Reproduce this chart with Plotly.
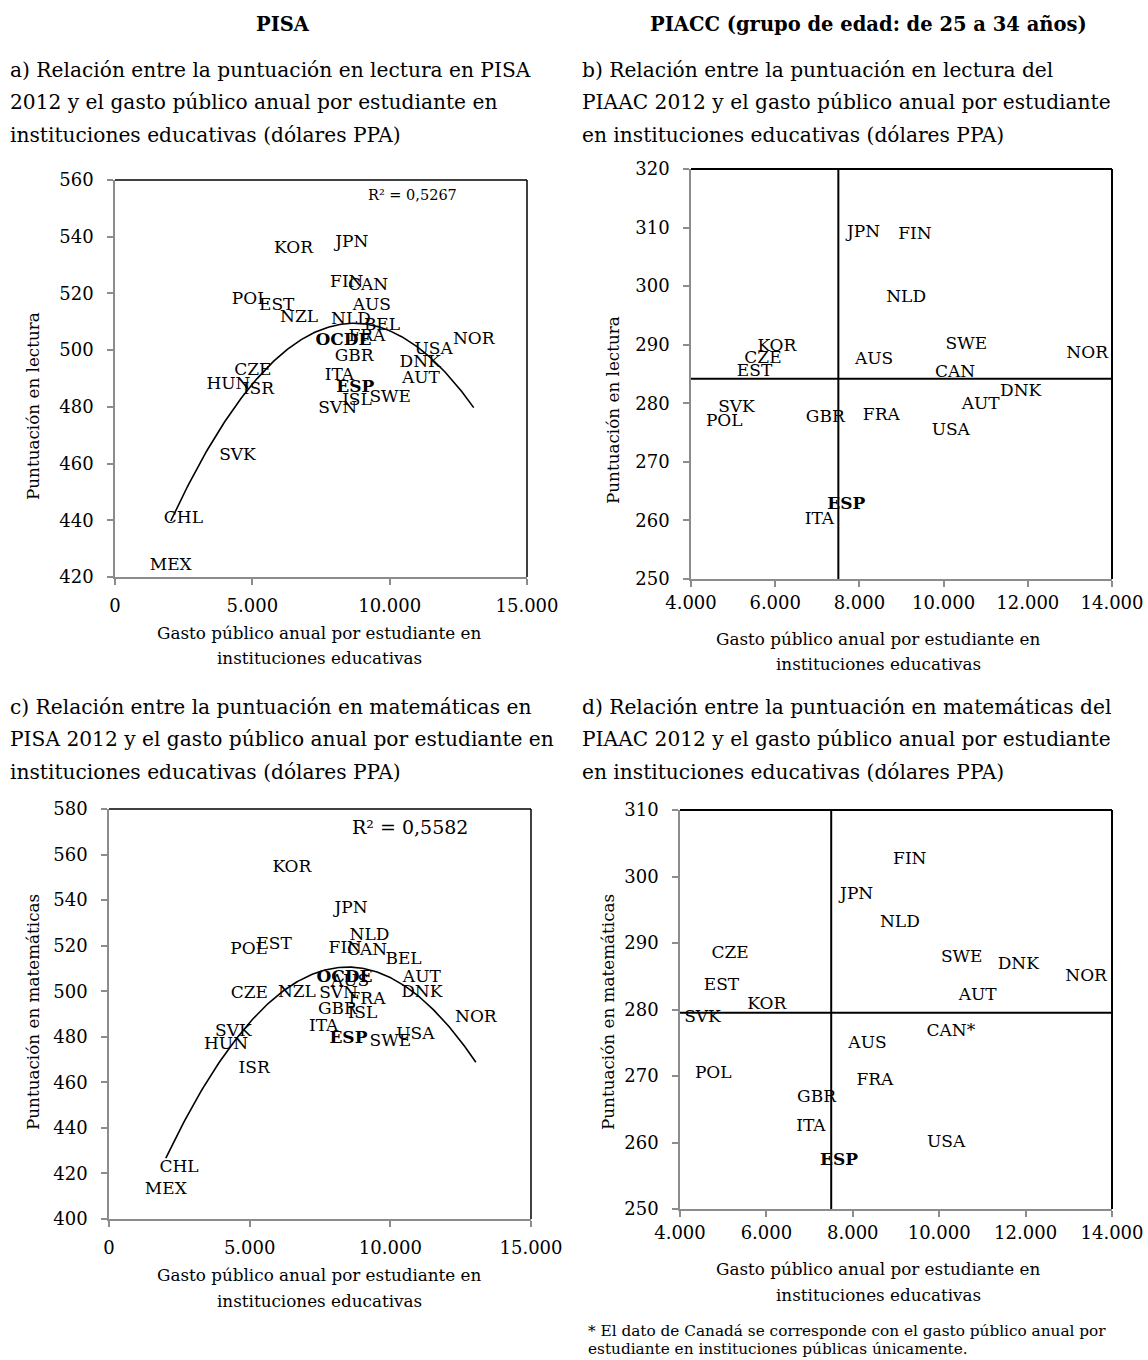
import numpy as np
import plotly.graph_objects as go

FONT = "DejaVu Serif"
W, H = 1148, 1360
GRAY = "#8c8c8c"

# ---------------- data ----------------
# a) PISA 2012 reading vs spending
countries_a = ["KOR", "JPN", "FIN", "CAN", "POL", "EST", "NZL", "AUS", "NLD", "BEL", "FRA", "NOR",
               "USA", "GBR", "DNK", "CZE", "ITA", "AUT", "HUN", "ISR", "ESP", "SWE", "ISL", "SVN",
               "SVK", "CHL", "MEX"]
spend_a = [6500, 8620, 8440, 9210, 4920, 5890, 6700, 9350, 8590, 9720, 9170, 13060,
           11600, 8710, 11110, 5020, 8170, 11140, 4130, 5220, 8750, 10020, 8810, 8110,
           4460, 2490, 2030]
read_a = [535.7, 537.7, 523.6, 522.7, 517.7, 515.6, 511.6, 515.6, 510.7, 508.7, 504.8, 503.6,
          500.1, 497.8, 495.6, 492.7, 491.1, 489.8, 487.8, 486.0, 486.6, 483.1, 482.2, 479.5,
          462.9, 440.6, 423.8]
oecd_a = (8320, 503.3)
r2_a = "R² = 0,5267"

# c) PISA 2012 maths vs spending
countries_c = ["KOR", "JPN", "NLD", "POL", "EST", "FIN", "CAN", "BEL", "AUS", "AUT", "DNK", "CZE",
               "NZL", "SVN", "FRA", "GBR", "ISL", "NOR", "ITA", "SVK", "USA", "HUN", "ESP", "SWE",
               "ISR", "CHL", "MEX"]
spend_c = [6500, 8600, 9260, 4960, 5870, 8400, 9170, 10470, 8570, 11120, 11120, 4990,
           6680, 8160, 9170, 8120, 9010, 13040, 7630, 4420, 10890, 4160, 8510, 10000,
           5160, 2490, 2020]
math_c = [554.0, 536.0, 524.2, 518.1, 520.6, 518.8, 517.8, 514.0, 504.2, 506.0, 499.5, 498.8,
          499.5, 499.1, 496.1, 492.0, 490.3, 488.5, 484.4, 482.2, 480.8, 476.7, 479.3, 477.9,
          465.9, 422.7, 412.7]
oecd_c = (8370, 505.7)
r2_c = "R² = 0,5582"

# b) PIAAC 2012 literacy (25-34) vs spending
countries_b = ["JPN", "FIN", "NLD", "KOR", "CZE", "EST", "AUS", "SWE", "NOR", "CAN", "DNK", "AUT",
               "SVK", "POL", "GBR", "FRA", "USA", "ESP", "ITA"]
spend_b = [8100, 9320, 9110, 6040, 5710, 5510, 8350, 10540, 13410, 10270, 11830, 10880,
           5080, 4790, 7190, 8520, 10170, 7690, 7050]
read_b = [309.1, 308.8, 298.1, 289.6, 287.6, 285.3, 287.4, 290.0, 288.5, 285.2, 281.9, 279.7,
          279.2, 276.9, 277.5, 277.9, 275.3, 262.6, 260.1]
avg_b = (7500, 284.2)

# d) PIAAC 2012 numeracy (25-34) vs spending
countries_d = ["FIN", "JPN", "NLD", "CZE", "SWE", "DNK", "NOR", "EST", "AUT", "KOR", "SVK", "CAN*",
               "AUS", "POL", "FRA", "GBR", "ITA", "USA", "ESP"]
spend_d = [9320, 8090, 9090, 5160, 10520, 11830, 13400, 4960, 10890, 6010, 4520, 10270,
           8340, 4770, 8510, 7160, 7030, 10160, 7680]
math_d = [302.5, 297.3, 293.0, 288.4, 287.8, 286.7, 285.0, 283.6, 282.1, 280.7, 278.7, 276.6,
          274.9, 270.3, 269.3, 266.8, 262.4, 259.9, 257.3]
avg_d = (7500, 279.5)

# axis ranges / ticks
xr_pisa, xt_pisa = [0, 15000], [0, 5000, 10000, 15000]
yr_a, yr_c = [420, 560], [400, 580]
xr_piaac, xt_piaac = [4000, 14000], [4000, 6000, 8000, 10000, 12000, 14000]
yr_b, yr_d = [250, 320], [250, 310]

# ---------------- helpers ----------------
def px(x):
    return x / W


def py(y):
    return 1 - y / H


def lab(names):
    return [f"<b>{n}</b>" if n in ("ESP", "OCDE") else n for n in names]


fig = go.Figure()

panels = {
    # key: (x-domain px, y-domain px (top, bottom), xrange, xticks, yrange, dtick, xstandoff)
    "1": ((115, 527), (180, 577), xr_pisa, xt_pisa, yr_a, 20, 6),
    "2": ((691, 1112), (169, 579), xr_piaac, xt_piaac, yr_b, 10, 1),
    "3": ((109, 531), (809, 1219), xr_pisa, xt_pisa, yr_c, 20, 6),
    "4": ((680, 1112), (810, 1209), xr_piaac, xt_piaac, yr_d, 10, 1),
}

layout_axes = {}
shapes = []
for k, (xd, yd, xr, xt, yr, dt, xso) in panels.items():
    xa = "xaxis" if k == "1" else f"xaxis{k}"
    ya = "yaxis" if k == "1" else f"yaxis{k}"
    xid = "x" if k == "1" else f"x{k}"
    yid = "y" if k == "1" else f"y{k}"
    layout_axes[xa] = dict(
        domain=[px(xd[0]), px(xd[1])], range=xr, tickvals=xt, tickformat=",d",
        anchor=yid, showline=True, linecolor=GRAY, linewidth=1.5, mirror=False,
        ticks="outside", ticklen=6, tickwidth=1.5, tickcolor=GRAY, showgrid=False,
        zeroline=False, tickfont=dict(family=FONT, size=18, color="black"),
        ticklabelstandoff=xso, automargin=False, fixedrange=True)
    layout_axes[ya] = dict(
        domain=[py(yd[1]), py(yd[0])], range=yr, dtick=dt, tick0=yr[0],
        anchor=xid, showline=True, linecolor=GRAY, linewidth=1.5, mirror=False,
        ticks="outside", ticklen=6, tickwidth=1.5, tickcolor=GRAY, showgrid=False,
        zeroline=False, tickfont=dict(family=FONT, size=18, color="black"),
        ticklabelstandoff=10, automargin=False, fixedrange=True)
    bw = 1.5 if k in ("1", "3") else 2
    shapes.append(dict(type="line", xref=f"{xid} domain", yref=f"{yid} domain",
                       x0=0, x1=1, y0=1, y1=1, line=dict(color="black", width=bw)))
    shapes.append(dict(type="line", xref=f"{xid} domain", yref=f"{yid} domain",
                       x0=1, x1=1, y0=0, y1=1, line=dict(color="black", width=bw)))

# trend lines (quadratic fit, as the original polynomial trendline)
for sx, sy, xid, yid in ((spend_a, read_a, "x", "y"), (spend_c, math_c, "x3", "y3")):
    coef = np.polyfit(sx, sy, 2)
    xs = np.linspace(min(sx), max(sx), 200)
    fig.add_trace(go.Scatter(x=xs, y=np.polyval(coef, xs), mode="lines",
                             line=dict(color="black", width=1.6), xaxis=xid, yaxis=yid,
                             hoverinfo="skip", showlegend=False))

# average lines for PIAAC panels
for (ax, ay), xr, yr, xid, yid in ((avg_b, xr_piaac, yr_b, "x2", "y2"),
                                   (avg_d, xr_piaac, yr_d, "x4", "y4")):
    fig.add_trace(go.Scatter(x=[ax, ax], y=yr, mode="lines", line=dict(color="black", width=2),
                             xaxis=xid, yaxis=yid, hoverinfo="skip", showlegend=False))
    fig.add_trace(go.Scatter(x=xr, y=[ay, ay], mode="lines", line=dict(color="black", width=2),
                             xaxis=xid, yaxis=yid, hoverinfo="skip", showlegend=False))

# country labels
for names, sx, sy, oecd, xid, yid in (
        (countries_a, spend_a, read_a, oecd_a, "x", "y"),
        (countries_b, spend_b, read_b, None, "x2", "y2"),
        (countries_c, spend_c, math_c, oecd_c, "x3", "y3"),
        (countries_d, spend_d, math_d, None, "x4", "y4")):
    nx, ny, nn = list(sx), list(sy), list(names)
    if oecd is not None:
        nx.append(oecd[0]); ny.append(oecd[1]); nn.append("OCDE")
    fig.add_trace(go.Scatter(x=nx, y=ny, mode="text", text=lab(nn), textposition="middle center",
                             textfont=dict(family=FONT, size=17, color="black"),
                             xaxis=xid, yaxis=yid, cliponaxis=False,
                             hoverinfo="skip", showlegend=False))

# ---------------- text ----------------
ann = []


def text(t, x, y, size, xanchor="left", bold=False, angle=0):
    ann.append(dict(text=f"<b>{t}</b>" if bold else t, x=px(x), y=py(y), xref="paper", yref="paper",
                    xanchor=xanchor, yanchor="middle", showarrow=False, textangle=angle,
                    font=dict(family=FONT, size=size, color="black")))


text("PISA", 283, 24, 19.5, "center", bold=True)
text("PIACC (grupo de edad: de 25 a 34 años)", 868, 24, 19.5, "center", bold=True)

sub_a = ["a) Relación entre la puntuación en lectura en PISA",
         "2012 y el gasto público anual por estudiante en",
         "instituciones educativas (dólares PPA)"]
sub_b = ["b) Relación entre la puntuación en lectura del",
         "PIAAC 2012 y el gasto público anual por estudiante",
         "en instituciones educativas (dólares PPA)"]
sub_c = ["c) Relación entre la puntuación en matemáticas en",
         "PISA 2012 y el gasto público anual por estudiante en",
         "instituciones educativas (dólares PPA)"]
sub_d = ["d) Relación entre la puntuación en matemáticas del",
         "PIAAC 2012 y el gasto público anual por estudiante",
         "en instituciones educativas (dólares PPA)"]
for lines, x0, y0 in ((sub_a, 8, 70), (sub_b, 580, 70), (sub_c, 8, 707), (sub_d, 580, 707)):
    for i, ln in enumerate(lines):
        text(ln, x0, y0 + i * 32.5, 20.2)

xt1, xt2 = "Gasto público anual por estudiante en", "instituciones educativas"
for cx, y1 in ((319, 633), (878, 639), (319, 1275), (878, 1269)):
    text(xt1, cx, y1, 16.8, "center")
    text(xt2, cx, y1 + 25.5, 16.8, "center")

text("Puntuación en lectura", 33, 406, 16.8, "center", angle=-90)
text("Puntuación en lectura", 613, 410, 16.8, "center", angle=-90)
text("Puntuación en matemáticas", 33, 1012, 16.8, "center", angle=-90)
text("Puntuación en matemáticas", 608, 1012, 16.8, "center", angle=-90)

text(r2_a, 412, 195, 14.5, "center")
text(r2_c, 410, 827, 19, "center")

text("* El dato de Canadá se corresponde con el gasto público anual por", 586, 1331, 15.3)
text("estudiante en instituciones públicas únicamente.", 586, 1349, 15.3)

fig.update_layout(width=W, height=H, autosize=False,
                  margin=dict(l=0, r=0, t=0, b=0, pad=0, autoexpand=False),
                  paper_bgcolor="white", plot_bgcolor="white", separators=",.",
                  showlegend=False, annotations=ann, shapes=shapes, **layout_axes)

fig.write_html("out.html", config={"displayModeBar": False},
               post_script="document.body.style.margin='0';")
